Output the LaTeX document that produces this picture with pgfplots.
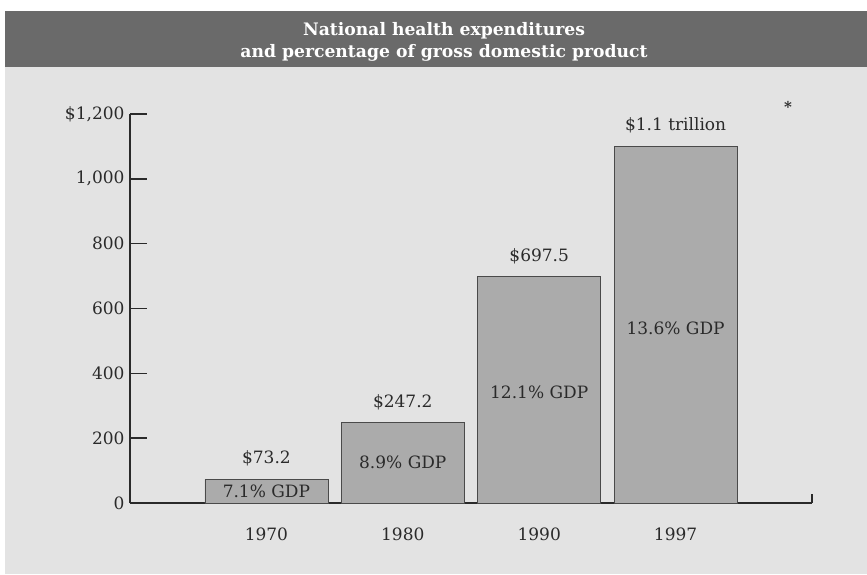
\documentclass[border=0pt]{standalone}
\usepackage{fontspec}
\setmainfont{DejaVu Serif}
\usepackage{pgfplots}
\pgfplotsset{compat=1.18}
\definecolor{paper}{HTML}{E3E3E3}
\definecolor{banner}{HTML}{6A6A6A}
\definecolor{barfill}{HTML}{ABABAB}
\definecolor{bardraw}{HTML}{4A4A4A}
\definecolor{ink}{HTML}{2A2A2A}

\pgfplotstableread{
x  y      label
0  73.2   {\$73.2}
1  247.2  {\$247.2}
2  697.5  {\$697.5}
3  1100   {\$1.1 trillion}
}\spending

\begin{document}
\begin{tikzpicture}[x=1pt,y=1pt]
\path[use as bounding box] (0,0) rectangle (867,574);
\fill[white] (0,0) rectangle (867,574);
\fill[paper] (5,0) rectangle (867,507);
\fill[banner] (5,507) rectangle (867,563);
\node[text=white, font=\bfseries\fontsize{17.2}{22}\selectfont, align=center]
  at (444,532) {National health expenditures\\and percentage of gross domestic product};

\begin{axis}[
  at={(130pt,71pt)}, anchor=south west,
  scale only axis, width=682pt, height=389pt,
  xmin=-1, xmax=4, ymin=0, ymax=1200,
  axis lines=left,
  axis line style={-, line width=1.4pt, color=ink},
  xtick={0,1,2,3}, xticklabels={1970,1980,1990,1997},
  major x tick style={draw=none},
  ytick={0,200,400,600,800,1000,1200},
  yticklabels={0,200,400,600,800,{1,000},{\$1,200}},
  tick align=inside, major tick length=17pt,
  major y tick style={line width=1.4pt, color=ink},
  tick label style={font=\fontsize{17}{20}\selectfont, text=ink},
  /pgf/number format/assume math mode=true,
  xticklabel style={yshift=-21pt},
  yticklabel style={xshift=-2pt},
  clip=false,
]
\addplot[ybar, bar width=123pt, fill=barfill, draw=bardraw, line width=0.8pt,
  point meta=explicit symbolic, nodes near coords,
  every node near coord/.append style={anchor=center, yshift=21pt,
    font=\fontsize{17}{20}\selectfont, text=ink}]
  table[x=x, y=y, meta=label] {\spending};
\begin{scope}[every node/.style={font=\fontsize{17}{20}\selectfont, text=ink}]
\node at (axis cs:0,37) {7.1\% GDP};
\node at (axis cs:1,124) {8.9\% GDP};
\node at (axis cs:2,341) {12.1\% GDP};
\node at (axis cs:3,539) {13.6\% GDP};
\end{scope}
% small upright tick closing the x axis
\draw[line width=1.4pt, color=ink] (axis cs:4,0) -- (axis cs:4,28);
\end{axis}
\node[font=\bfseries\fontsize{15}{18}\selectfont, text=ink] at (788,467) {*};
\end{tikzpicture}
\end{document}
